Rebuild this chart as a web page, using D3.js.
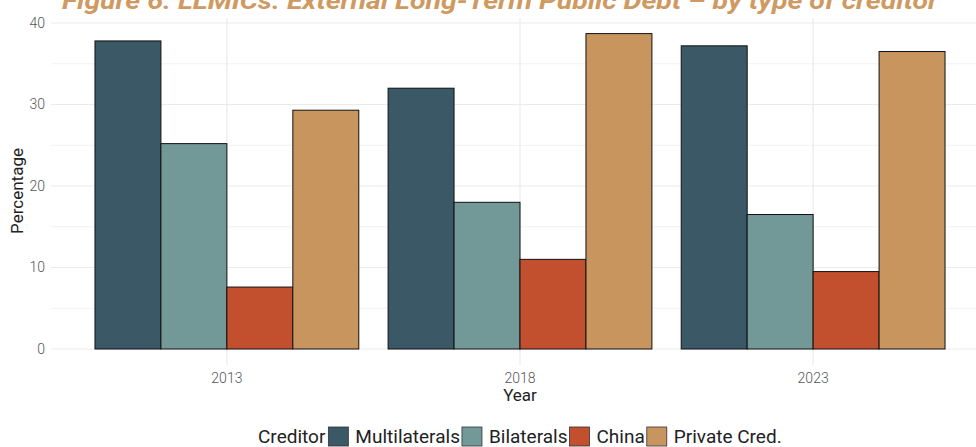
<!doctype html>
<html lang="en">
<head>
<meta charset="utf-8">
<title>External Long-Term Public Debt by type of creditor</title>
<script src="https://cdnjs.cloudflare.com/ajax/libs/d3/7.8.5/d3.min.js"></script>
<style>
	body { margin: 0; background: #fff; }
	svg text { font-family: Roboto, "DejaVu Sans", sans-serif; }
</style>
</head>
<body>
<div id="chart"></div>
<script>
/* data */
var years = ['2013', '2018', '2023'];
var creditors = ['Multilaterals', 'Bilaterals', 'China', 'Private Cred.'];
var multilaterals = [37.8, 32.0, 37.2];
var bilaterals = [25.2, 18.0, 16.5];
var china = [7.6, 11.0, 9.5];
var privateCred = [29.3, 38.7, 36.5];
var yTicks = [0, 10, 20, 30, 40];
var colors = ['#3b5866', '#729998', '#c24f2e', '#c8955f'];

var series = [multilaterals, bilaterals, china, privateCred];
var rows = [];
years.forEach(function(yr, i){
	creditors.forEach(function(c, j){
		rows.push({ year: yr, creditor: c, value: series[j][i] });
	});
});

/* view */
var size = { width: 976, height: 447 };
var panel = { left: 51, right: 989, top: 18, bottom: 365 };

var svg = d3.select('#chart').append('svg')
	.attr('width', size.width)
	.attr('height', size.height);

var x = d3.scaleBand()
	.domain(years)
	.range([panel.left, panel.right])
	.paddingInner(0.1)
	.paddingOuter(0.15);

var xInner = d3.scaleBand()
	.domain(creditors)
	.range([0, x.bandwidth()]);

var y = d3.scaleLinear()
	.domain([0, 40])
	.range([349, 23]);

var color = d3.scaleOrdinal().domain(creditors).range(colors);

// grid
var grid = svg.append('g');
d3.range(5, 40, 10).forEach(function(v){
	grid.append('line')
		.attr('x1', panel.left).attr('x2', panel.right)
		.attr('y1', y(v)).attr('y2', y(v))
		.style('stroke', '#f2f2f2').style('stroke-width', 1);
});
yTicks.forEach(function(v){
	grid.append('line')
		.attr('x1', panel.left).attr('x2', panel.right)
		.attr('y1', y(v)).attr('y2', y(v))
		.style('stroke', '#ebebeb').style('stroke-width', 1.2);
});
years.forEach(function(yr){
	var cx = x(yr) + x.bandwidth() / 2;
	grid.append('line')
		.attr('x1', cx).attr('x2', cx)
		.attr('y1', panel.top).attr('y2', panel.bottom)
		.style('stroke', '#ebebeb').style('stroke-width', 1.2);
});

// bars
svg.append('g').selectAll('rect')
	.data(rows)
	.enter().append('rect')
	.attr('x', function(d){ return x(d.year) + xInner(d.creditor); })
	.attr('y', function(d){ return y(d.value); })
	.attr('width', xInner.bandwidth())
	.attr('height', function(d){ return y(0) - y(d.value); })
	.style('fill', function(d){ return color(d.creditor); })
	.style('stroke', '#111')
	.style('stroke-width', 1);

// axes
var yAxis = svg.append('g')
	.attr('transform', 'translate(' + (panel.left - 4) + ',0)')
	.call(d3.axisLeft(y).tickValues(yTicks).tickSize(0).tickPadding(2));
var xAxis = svg.append('g')
	.attr('transform', 'translate(0,' + (panel.bottom + 3) + ')')
	.call(d3.axisBottom(x).tickSize(0).tickPadding(5));
[yAxis, xAxis].forEach(function(a){
	a.select('.domain').remove();
	a.selectAll('text')
		.style('font-size', '14px')
		.style('font-weight', 300)
		.style('fill', '#555');
});

// axis titles
svg.append('text')
	.attr('x', x('2018') + x.bandwidth() / 2)
	.attr('y', 401)
	.attr('text-anchor', 'middle')
	.style('font-size', '17px')
	.style('fill', '#222')
	.text('Year');

svg.append('text')
	.attr('transform', 'translate(23,191) rotate(-90)')
	.attr('text-anchor', 'middle')
	.style('font-size', '17px')
	.style('fill', '#222')
	.text('Percentage');

// title (cropped at top in the original)
svg.append('text')
	.attr('x', 500)
	.attr('y', 9)
	.attr('text-anchor', 'middle')
	.attr('textLength', 876)
	.attr('lengthAdjust', 'spacingAndGlyphs')
	.style('font-size', '24px')
	.style('font-weight', 'bold')
	.style('font-style', 'italic')
	.style('fill', '#cf9a62')
	.text('Figure 6: LLMICs: External Long-Term Public Debt \u2013 by type of creditor');

// legend
var legend = svg.append('g').attr('transform', 'translate(0,443)');
var lx = 258;
var lt = legend.append('text')
	.attr('x', lx).attr('y', 0)
	.style('font-size', '19px').style('fill', '#222')
	.text('Creditor');
lx += lt.node().getComputedTextLength() + 3;
creditors.forEach(function(c){
	legend.append('rect')
		.attr('x', lx).attr('y', -16)
		.attr('width', 20).attr('height', 19)
		.style('fill', color(c))
		.style('stroke', '#333').style('stroke-width', 0.8);
	lx += 27;
	var t = legend.append('text')
		.attr('x', lx).attr('y', 0)
		.style('font-size', '19px').style('fill', '#222')
		.text(c);
	lx += t.node().getComputedTextLength() + 2;
});
</script>
</body>
</html>
